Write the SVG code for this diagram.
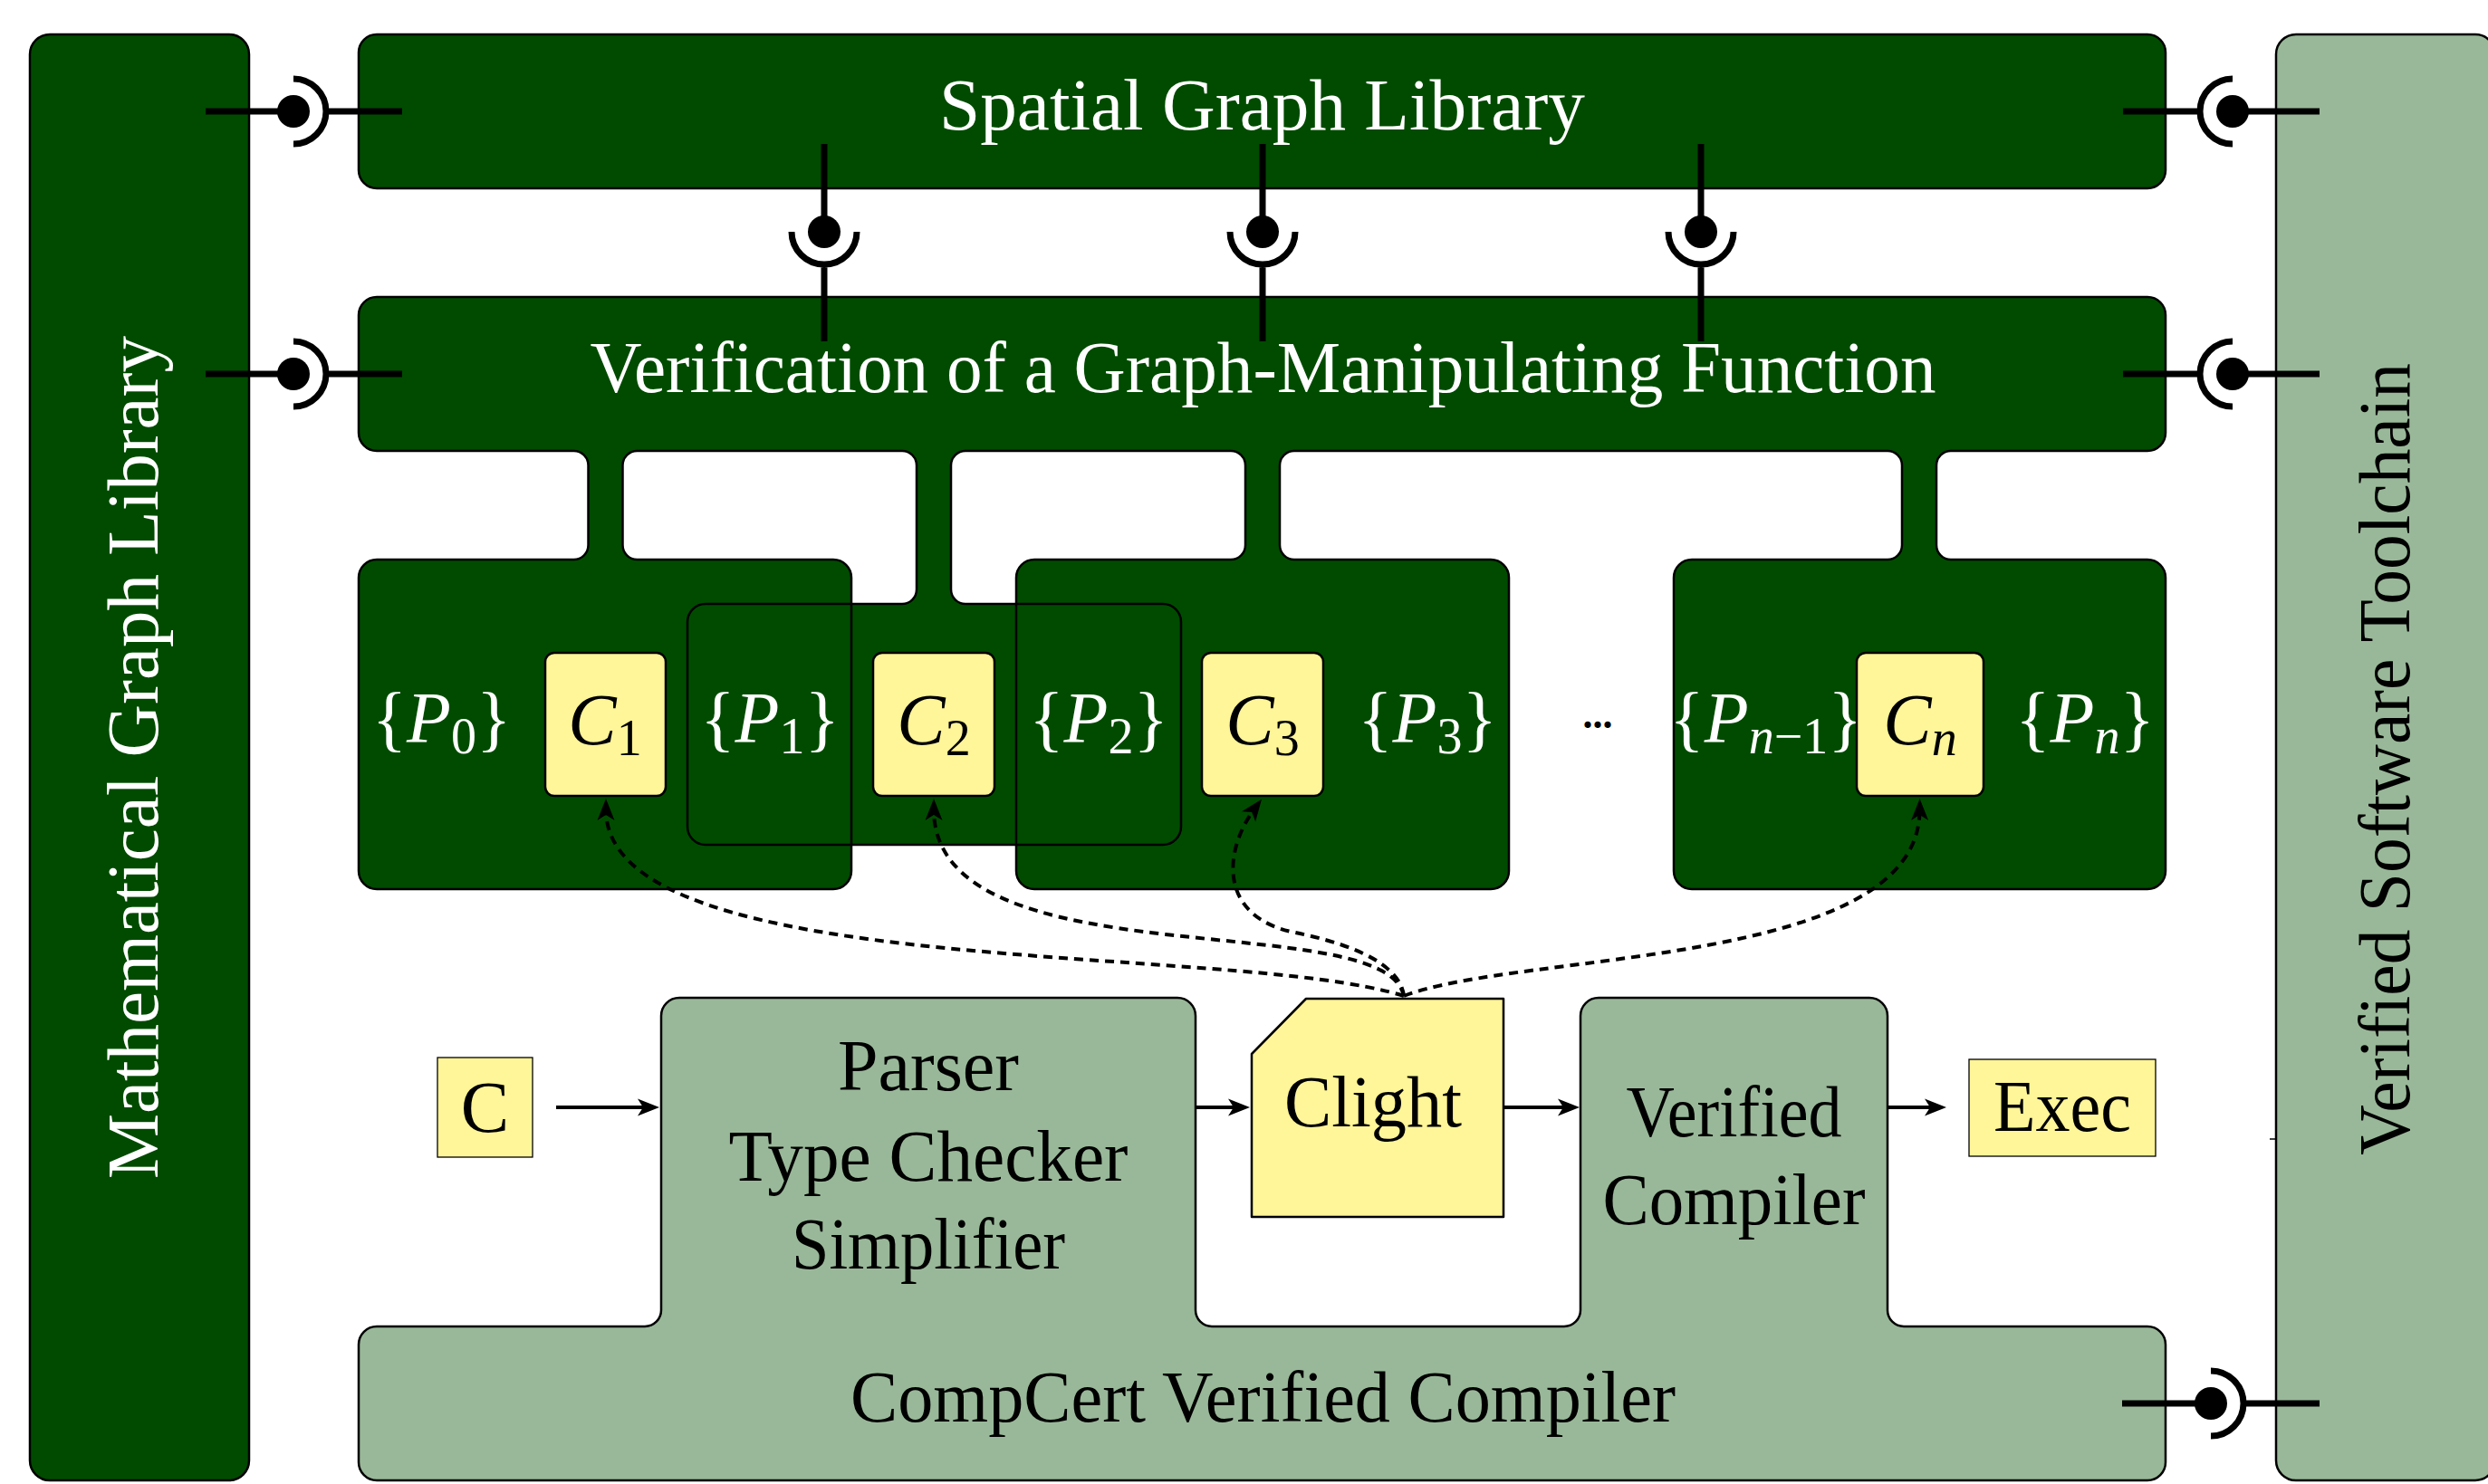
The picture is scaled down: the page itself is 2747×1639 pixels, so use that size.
<svg xmlns="http://www.w3.org/2000/svg" width="2747" height="1639" viewBox="0 0 2747 1639">
<style>
.dg{fill:#004b00;stroke:#000;stroke-width:2.5;stroke-linejoin:round}
.lg{fill:#99b899;stroke:#000;stroke-width:2.5;stroke-linejoin:round}
.yl{fill:#fff599;stroke:#000;stroke-width:2.5;stroke-linejoin:round}
.yt{fill:#fff599;stroke:#000;stroke-width:1.3}
.ln{fill:none;stroke:#000;stroke-width:2.5}
.t{font-family:"Liberation Serif","DejaVu Serif",serif;font-size:80px;text-anchor:middle}
.w{fill:#fff}
.b{fill:#000}
.it{font-style:italic}
.sub{font-size:56px}
.lol{fill:none;stroke:#000;stroke-width:7}
.ball{fill:#000}
.arr{fill:none;stroke:#000;stroke-width:4;marker-end:url(#stealth)}
.dash{fill:none;stroke:#000;stroke-width:4;stroke-dasharray:10 7;marker-end:url(#stealth)}
</style>
<defs>
<marker id="stealth" markerUnits="userSpaceOnUse" viewBox="-26 -12 28 24" markerWidth="28" markerHeight="24" refX="-12" refY="0" orient="auto">
<path d="M0,0 L-24,-9.5 L-18,0 L-24,9.5 Z" fill="#000"/>
</marker>
</defs>
<rect x="0" y="0" width="2747" height="1639" fill="#fff"/>

<g id="math-graph-library">
<rect x="33" y="38" width="242" height="1597" rx="22" class="dg"/>
<text class="t w" transform="translate(174,836.5) rotate(-90)" textLength="931" lengthAdjust="spacingAndGlyphs">Mathematical Graph Library</text>
</g>

<g id="verified-software-toolchain">
<rect x="2513" y="38" width="242" height="1597" rx="22" class="lg"/>
<text class="t b" transform="translate(2660,838.5) rotate(-90)" textLength="875" lengthAdjust="spacingAndGlyphs">Verified Software Toolchain</text>
</g>

<g id="spatial-graph-library">
<rect x="396" y="38" width="1995" height="170" rx="20" class="dg"/>
<text class="t w" x="1393.5" y="143" textLength="713" lengthAdjust="spacingAndGlyphs">Spatial Graph Library</text>
</g>

<g id="verification">
<path class="dg" fill-rule="evenodd" d="M 396,348 A 20 20 0 0 1 416,328 L 2371,328 A 20 20 0 0 1 2391,348 L 2391,478 A 20 20 0 0 1 2371,498 L 2154,498 A 16 16 0 0 0 2138,514 L 2138,602 A 16 16 0 0 0 2154,618 L 2371,618 A 20 20 0 0 1 2391,638 L 2391,962 A 20 20 0 0 1 2371,982 L 1868,982 A 20 20 0 0 1 1848,962 L 1848,638 A 20 20 0 0 1 1868,618 L 2084,618 A 16 16 0 0 0 2100,602 L 2100,514 A 16 16 0 0 0 2084,498 L 1429,498 A 16 16 0 0 0 1413,514 L 1413,602 A 16 16 0 0 0 1429,618 L 1646,618 A 20 20 0 0 1 1666,638 L 1666,962 A 20 20 0 0 1 1646,982 L 1142,982 A 20 20 0 0 1 1122,962 L 1122,933 L 940,933 L 940,962 A 20 20 0 0 1 920,982 L 416,982 A 20 20 0 0 1 396,962 L 396,638 A 20 20 0 0 1 416,618 L 633.5,618 A 16 16 0 0 0 649.5,602 L 649.5,514 A 16 16 0 0 0 633.5,498 L 416,498 A 20 20 0 0 1 396,478 Z
M 703.5,498 L 996,498 A 16 16 0 0 1 1012,514 L 1012,651 A 16 16 0 0 1 996,667 L 940,667 L 940,638 A 20 20 0 0 0 920,618 L 703.5,618 A 16 16 0 0 1 687.5,602 L 687.5,514 A 16 16 0 0 1 703.5,498 Z
M 1066,498 L 1359,498 A 16 16 0 0 1 1375,514 L 1375,602 A 16 16 0 0 1 1359,618 L 1142,618 A 20 20 0 0 0 1122,638 L 1122,667 L 1066,667 A 16 16 0 0 1 1050,651 L 1050,514 A 16 16 0 0 1 1066,498 Z"/>
<path class="ln" d="M 940,667 L 779,667 A 20 20 0 0 0 759,687 L 759,913 A 20 20 0 0 0 779,933 L 940,933 M 940,667 L 940,933 M 1122,667 L 1284,667 A 20 20 0 0 1 1304,687 L 1304,913 A 20 20 0 0 1 1284,933 L 1122,933 M 1122,667 L 1122,933"/>
<text class="t w" x="1394.5" y="433" textLength="1486" lengthAdjust="spacingAndGlyphs">Verification of a Graph-Manipulating Function</text>
</g>

<g id="P0"><text class="t w" x="487.5" y="820">{<tspan class="it">P</tspan><tspan class="sub" dy="12">0</tspan><tspan dy="-12">}</tspan></text></g>
<g id="C1"><rect x="602" y="721" width="133" height="158" rx="10" class="yl"/><text class="t b" x="668" y="822"><tspan class="it">C</tspan><tspan class="sub" dy="12">1</tspan></text></g>
<g id="P1"><text class="t w" x="850" y="820">{<tspan class="it">P</tspan><tspan class="sub" dy="12">1</tspan><tspan dy="-12">}</tspan></text></g>
<g id="C2"><rect x="964" y="721" width="134" height="158" rx="10" class="yl"/><text class="t b" x="1031" y="822"><tspan class="it">C</tspan><tspan class="sub" dy="12">2</tspan></text></g>
<g id="P2"><text class="t w" x="1213" y="820">{<tspan class="it">P</tspan><tspan class="sub" dy="12">2</tspan><tspan dy="-12">}</tspan></text></g>
<g id="C3"><rect x="1327" y="721" width="134" height="158" rx="10" class="yl"/><text class="t b" x="1394" y="822"><tspan class="it">C</tspan><tspan class="sub" dy="12">3</tspan></text></g>
<g id="P3"><text class="t w" x="1576" y="820">{<tspan class="it">P</tspan><tspan class="sub" dy="12">3</tspan><tspan dy="-12">}</tspan></text></g>
<g id="dots"><text class="t b" x="1764" y="804" style="font-size:44px;font-weight:bold">...</text></g>
<g id="Pn-1"><text class="t w" x="1950" y="820">{<tspan class="it">P</tspan><tspan class="sub" dy="12"><tspan class="it">n</tspan>−1</tspan><tspan dy="-12">}</tspan></text></g>
<g id="Cn"><rect x="2050" y="721" width="140" height="158" rx="10" class="yl"/><text class="t b" x="2120" y="822"><tspan class="it">C</tspan><tspan class="sub it" dy="12">n</tspan></text></g>
<g id="Pn"><text class="t w" x="2302" y="820">{<tspan class="it">P</tspan><tspan class="sub it" dy="12">n</tspan><tspan dy="-12">}</tspan></text></g>

<g id="compcert">
<path class="lg" d="M 396,1485 A 20 20 0 0 1 416,1465 L 712,1465 A 18 18 0 0 0 730,1447 L 730,1122 A 20 20 0 0 1 750,1102 L 1300,1102 A 20 20 0 0 1 1320,1122 L 1320,1447 A 18 18 0 0 0 1338,1465 L 1727,1465 A 18 18 0 0 0 1745,1447 L 1745,1122 A 20 20 0 0 1 1765,1102 L 2064,1102 A 20 20 0 0 1 2084,1122 L 2084,1447 A 18 18 0 0 0 2102,1465 L 2371,1465 A 20 20 0 0 1 2391,1485 L 2391,1615 A 20 20 0 0 1 2371,1635 L 416,1635 A 20 20 0 0 1 396,1615 Z"/>
<text class="t b" x="1394.5" y="1570" textLength="911" lengthAdjust="spacingAndGlyphs">CompCert Verified Compiler</text>
</g>
<g id="parser">
<text class="t b" x="1025" y="1204" textLength="200" lengthAdjust="spacingAndGlyphs">Parser</text>
<text class="t b" x="1025" y="1304" textLength="441" lengthAdjust="spacingAndGlyphs">Type Checker</text>
<text class="t b" x="1025" y="1401" textLength="302" lengthAdjust="spacingAndGlyphs">Simplifier</text>
</g>
<g id="verified-compiler">
<text class="t b" x="1914.5" y="1255" textLength="238" lengthAdjust="spacingAndGlyphs">Verified</text>
<text class="t b" x="1914.5" y="1352" textLength="290" lengthAdjust="spacingAndGlyphs">Compiler</text>
</g>
<g id="C">
<rect x="483" y="1168" width="105" height="110" class="yt"/>
<text class="t b" x="535.5" y="1250">C</text>
</g>
<g id="clight">
<path class="yl" d="M 1442,1103 L 1660,1103 L 1660,1344 L 1382,1344 L 1382,1164 Z"/>
<text class="t b" x="1516" y="1244" textLength="196" lengthAdjust="spacingAndGlyphs">Clight</text>
</g>
<g id="exec">
<rect x="2174" y="1170" width="206" height="107" class="yt"/>
<text class="t b" x="2277" y="1249" textLength="152" lengthAdjust="spacingAndGlyphs">Exec</text>
</g>

<g id="connectors">
<path class="arr" d="M 614,1223 L 716,1223"/>
<path class="arr" d="M 1320,1223 L 1368,1223"/>
<path class="arr" d="M 1660,1223 L 1732,1223"/>
<path class="arr" d="M 2084,1223 L 2137,1223"/>
<path class="dash" d="M 1550,1100 C 1360,1040 669,1086 669,894"/>
<path class="dash" d="M 1550,1100 C 1530,1000 1031,1086 1031,894"/>
<path class="dash" d="M 1550,1100 C 1545,1060 1479,1040 1430,1030 C 1345,1013 1350,940 1385.8,892.3"/>
<path class="dash" d="M 1550,1100 C 1680,1050 2119.6,1070 2119.6,894"/>
<line x1="2506" y1="1258" x2="2513" y2="1258" stroke="#000" stroke-width="1.5"/>
<g id="lollipops">
<path class="lol" d="M 227,123 L 324,123 M 361,123 L 444,123 M 324,87 A 36 36 0 0 1 324,159"/>
<circle class="ball" cx="324" cy="123" r="18"/>
<path class="lol" d="M 227,413 L 324,413 M 361,413 L 444,413 M 324,377 A 36 36 0 0 1 324,449"/>
<circle class="ball" cx="324" cy="413" r="18"/>
<path class="lol" d="M 2344,123 L 2428,123 M 2465,123 L 2561,123 M 2465,87 A 36 36 0 0 0 2465,159"/>
<circle class="ball" cx="2465" cy="123" r="18"/>
<path class="lol" d="M 2344,413 L 2428,413 M 2465,413 L 2561,413 M 2465,377 A 36 36 0 0 0 2465,449"/>
<circle class="ball" cx="2465" cy="413" r="18"/>
<path class="lol" d="M 2343,1550 L 2441,1550 M 2478,1550 L 2561,1550 M 2441,1514 A 36 36 0 0 1 2441,1586"/>
<circle class="ball" cx="2441" cy="1550" r="18"/>
<path class="lol" d="M 910,159 L 910,256 M 910,293 L 910,377 M 874,256 A 36 36 0 0 0 946,256"/>
<circle class="ball" cx="910" cy="256" r="18"/>
<path class="lol" d="M 1394,159 L 1394,256 M 1394,293 L 1394,377 M 1358,256 A 36 36 0 0 0 1430,256"/>
<circle class="ball" cx="1394" cy="256" r="18"/>
<path class="lol" d="M 1878,159 L 1878,256 M 1878,293 L 1878,377 M 1842,256 A 36 36 0 0 0 1914,256"/>
<circle class="ball" cx="1878" cy="256" r="18"/>
</g>
</g>
</svg>
